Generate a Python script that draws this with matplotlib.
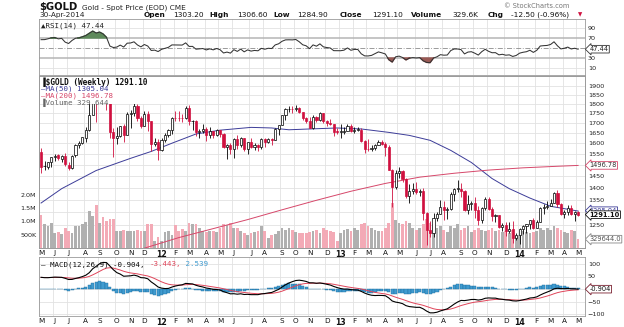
import numpy as np
import pandas as pd
import matplotlib
matplotlib.use("Agg")
import matplotlib.pyplot as plt
from matplotlib.ticker import FixedLocator, FixedFormatter, NullLocator
from matplotlib.patches import Rectangle

W_PX, H_PX = 624, 327

# ---------------- data (weekly) ----------------
dates = pd.date_range("2011-05-06", periods=157, freq="W-FRI")

opens = [1557, 1493, 1490, 1510, 1536, 1543, 1528, 1540, 1500, 1485, 1543, 1591, 1602, 1625, 1664, 1744, 1852, 1826, 1878, 1856,
         1812, 1656, 1624, 1636, 1683, 1642, 1745, 1753, 1787, 1724, 1684, 1746, 1711, 1598, 1606,
         1567, 1617, 1640, 1665, 1727, 1726, 1725, 1724, 1776, 1711, 1712, 1656, 1662, 1668, 1642, 1660, 1642, 1663, 1643, 1580,
         1593, 1572, 1622, 1590, 1626, 1572, 1604, 1580, 1590, 1584, 1620, 1606, 1620, 1616, 1671, 1691, 1740, 1771, 1773, 1772,
         1780, 1757, 1724, 1712, 1676, 1731, 1714, 1752, 1712, 1702, 1696, 1657,
         1656, 1656, 1662, 1687, 1658, 1667, 1667, 1609, 1573, 1572, 1577, 1592, 1608, 1596, 1581, 1476, 1404, 1462, 1470, 1436,
         1365, 1387, 1393, 1383, 1387, 1297, 1234, 1223, 1278, 1294, 1322, 1310, 1312, 1372, 1396, 1396, 1386, 1308, 1333, 1338,
         1310, 1272, 1316, 1352, 1315, 1287, 1288, 1243, 1250, 1231, 1235, 1203,
         1213, 1238, 1248, 1254, 1270, 1240, 1263, 1318, 1323, 1326, 1339, 1379, 1335, 1294, 1303, 1318, 1294, 1303.2]
highs = [1577, 1519, 1513, 1537, 1550, 1549, 1545, 1556, 1510, 1545, 1595, 1611, 1631, 1682, 1815, 1877, 1912, 1885, 1921, 1860,
         1815, 1676, 1681, 1684, 1695, 1759, 1767, 1803, 1800, 1735, 1761, 1763, 1712, 1624, 1620,
         1626, 1650, 1672, 1731, 1764, 1763, 1745, 1790, 1792, 1716, 1716, 1672, 1696, 1678, 1680, 1662, 1670, 1667, 1648, 1598,
         1600, 1627, 1641, 1628, 1627, 1606, 1626, 1602, 1596, 1625, 1625, 1625, 1626, 1675, 1692, 1740, 1778, 1789, 1788, 1796,
         1786, 1758, 1730, 1730, 1740, 1737, 1755, 1754, 1717, 1722, 1697, 1673,
         1694, 1679, 1695, 1694, 1679, 1682, 1675, 1614, 1619, 1590, 1597, 1616, 1617, 1605, 1590, 1480, 1476, 1488, 1477, 1440,
         1415, 1418, 1424, 1396, 1397, 1300, 1267, 1297, 1300, 1348, 1347, 1323, 1381, 1397, 1434, 1420, 1390, 1369, 1345, 1361,
         1326, 1323, 1361, 1360, 1322, 1293, 1290, 1260, 1262, 1261, 1268, 1220,
         1240, 1250, 1256, 1272, 1280, 1272, 1320, 1332, 1345, 1355, 1384, 1392, 1336, 1310, 1331, 1331, 1305, 1306.6]
lows = [1462, 1478, 1481, 1490, 1517, 1523, 1513, 1495, 1478, 1482, 1536, 1577, 1594, 1605, 1662, 1742, 1705, 1803, 1831, 1770,
        1627, 1535, 1595, 1630, 1604, 1641, 1677, 1736, 1711, 1676, 1683, 1660, 1562, 1585, 1523,
        1564, 1605, 1628, 1647, 1713, 1710, 1705, 1723, 1689, 1663, 1636, 1627, 1650, 1613, 1627, 1627, 1636, 1631, 1578, 1527,
        1549, 1532, 1571, 1584, 1562, 1547, 1575, 1567, 1563, 1574, 1584, 1600, 1590, 1615, 1641, 1689, 1717, 1758, 1751, 1765,
        1754, 1717, 1700, 1673, 1672, 1707, 1710, 1700, 1683, 1690, 1636, 1647,
        1626, 1645, 1661, 1655, 1651, 1660, 1604, 1555, 1565, 1562, 1570, 1590, 1590, 1539, 1476, 1321, 1395, 1441, 1426, 1359,
        1338, 1372, 1375, 1366, 1269, 1180, 1207, 1207, 1265, 1294, 1271, 1273, 1310, 1346, 1384, 1360, 1307, 1292, 1311, 1278,
        1251, 1260, 1310, 1310, 1266, 1261, 1240, 1230, 1211, 1222, 1186, 1195,
        1182, 1219, 1223, 1235, 1238, 1240, 1263, 1293, 1315, 1325, 1338, 1321, 1290, 1277, 1290, 1288, 1268, 1284.9]
closes = [1491, 1492, 1511, 1536, 1542, 1529, 1539, 1501, 1486, 1542, 1591, 1601, 1628, 1663, 1743, 1852, 1828, 1878, 1856, 1812,
          1657, 1624, 1635, 1683, 1642, 1746, 1753, 1788, 1725, 1683, 1746, 1712, 1598, 1606, 1566,
          1617, 1640, 1665, 1727, 1726, 1725, 1724, 1776, 1711, 1712, 1656, 1662, 1668, 1642, 1660, 1642, 1663, 1643, 1580, 1593,
          1572, 1622, 1590, 1626, 1572, 1604, 1580, 1590, 1584, 1620, 1606, 1620, 1616, 1671, 1691, 1740, 1771, 1773, 1772, 1780,
          1757, 1724, 1712, 1676, 1731, 1714, 1752, 1712, 1702, 1696, 1657, 1656,
          1656, 1662, 1687, 1658, 1667, 1667, 1609, 1573, 1572, 1577, 1592, 1608, 1596, 1581, 1476, 1404, 1462, 1470, 1436, 1365,
          1387, 1393, 1383, 1387, 1297, 1234, 1223, 1278, 1294, 1322, 1310, 1312, 1372, 1396, 1396, 1386, 1308, 1333, 1338, 1310,
          1272, 1316, 1352, 1315, 1287, 1288, 1243, 1250, 1231, 1235, 1203, 1213,
          1238, 1248, 1254, 1270, 1240, 1263, 1318, 1323, 1326, 1339, 1379, 1335, 1294, 1303, 1318, 1294, 1303, 1291.1]
volume_k = [1250, 900, 840, 940, 560, 590, 540, 730, 630, 560, 840, 810, 880, 980, 1400, 1210, 1600, 940, 1150, 1000,
            1100, 1100, 630, 630, 690, 650, 650, 630, 690, 650, 630, 880, 900, 280, 400, 250, 600, 650, 500, 850,
            630, 710, 630, 940, 900, 880, 750, 650, 600, 630, 630, 600, 750, 900, 850, 940, 730, 750, 630, 560,
            500, 560, 600, 630, 810, 630, 380, 500, 530, 630, 750, 690, 750, 690, 600, 560, 560, 560, 600, 650,
            690, 560, 750, 690, 630, 600, 250, 560, 690, 720, 630, 750, 690, 880, 940, 810, 750, 690, 630, 650,
            750, 940, 1700, 1060, 940, 880, 1000, 940, 750, 690, 750, 880, 1100, 940, 880, 750, 810, 690, 600, 810,
            750, 880, 690, 750, 810, 600, 690, 750, 690, 630, 690, 750, 630, 690, 600, 630, 560, 690, 430, 500,
            630, 600, 560, 600, 630, 750, 690, 750, 690, 810, 750, 690, 600, 560, 690, 630, 330]

ma50_weeks = [0, 6, 16, 26, 32, 38, 45, 52, 61, 67, 72, 78, 86, 93, 101, 107, 113, 119, 125, 131, 136, 142, 148, 156]
ma50_vals = [1337, 1396, 1474, 1529, 1561, 1600, 1645, 1664, 1678, 1675, 1666, 1670, 1675, 1670, 1653, 1638, 1614, 1566,
             1510, 1439, 1396, 1357, 1324, 1305.04]
ma200_weeks = [28, 40, 50, 60, 70, 80, 90, 100, 110, 120, 130, 140, 150, 156]
ma200_vals = [1160, 1205, 1238, 1272, 1310, 1348, 1385, 1418, 1445, 1462, 1476, 1486, 1493, 1496.78]

# indicator seeds (state before the first visible week)
prior_close = 1556.0
rsi_seed_gain, rsi_seed_loss = 22.0, 6.0
ema12_seed, ema26_seed, signal_seed = 1462.0, 1414.0, 46.0

price_ticks = [1250, 1300, 1350, 1400, 1450, 1500, 1550, 1600, 1650, 1700, 1750, 1800, 1850, 1900]
vol_ticks = [500000, 1000000, 1500000, 2000000]
vol_tick_labels = ["500K", "1.0M", "1.5M", "2.0M"]
macd_ticks = [-100, -50, 0, 50, 100]

# ---------------- indicators ----------------
n = len(closes)
x = np.arange(n)
c_arr = np.array(closes, float)
o_arr = np.array(opens, float)
h_arr = np.array(highs, float)
l_arr = np.array(lows, float)
v_arr = np.array(volume_k, float) * 1000

rsi = []
ag, al, prev = rsi_seed_gain, rsi_seed_loss, prior_close
for c in closes:
    ch = c - prev
    ag = (ag * 13 + max(ch, 0)) / 14
    al = (al * 13 + max(-ch, 0)) / 14
    rsi.append(100 - 100 / (1 + ag / al))
    prev = c
rsi = np.array(rsi)

macd, sig = [], []
e12, e26, s = ema12_seed, ema26_seed, signal_seed
for c in closes:
    e12 += (c - e12) * 2 / 13
    e26 += (c - e26) * 2 / 27
    m = e12 - e26
    s += (m - s) * 2 / 10
    macd.append(m)
    sig.append(s)
macd = np.array(macd)
sig = np.array(sig)
hist = macd - sig

prev_close = np.concatenate([[prior_close], c_arr[:-1]])
down = c_arr < prev_close

# ---------------- colours ----------------
RED = '#d0103f'
PINK = '#f3aab6'
GRAYV = '#b0b0b0'
GRID = '#e2e2e2'
SPINE = '#9a9a9a'
MA50C = '#3c3c98'
MA200C = '#d6476a'
HISTC = '#3f9bd0'
TXT = '#222222'

fig = plt.figure(figsize=(W_PX / 100, H_PX / 100), dpi=100)
fig.patch.set_facecolor('white')


def rect(l, t, r, b):
    return [l / W_PX, 1 - b / H_PX, (r - l) / W_PX, (b - t) / H_PX]


LEFT, RIGHT = 39, 585
XL = (-0.6, 158.0)

# month ticks
m_idx, m_lab = [], []
prevkey = None
for i, d in enumerate(dates):
    key = (d.year, d.month)
    if key != prevkey:
        m_idx.append(i)
        m_lab.append(str(d.year % 100) if d.month == 1 else 'JFMAMJJASOND'[d.month - 1])
        prevkey = key


def style(a):
    for sp in a.spines.values():
        sp.set_color(SPINE)
        sp.set_linewidth(0.6)
    a.tick_params(length=0, labelsize=4.6, colors=TXT, pad=2)
    a.set_xlim(*XL)


def vgrid(a):
    for mi in m_idx:
        a.axvline(mi - 0.5, color=GRID, lw=0.6, zorder=0)


def month_labels(a):
    a.set_xticks(m_idx)
    a.set_xticklabels(m_lab)
    for t, lab in zip(a.get_xticklabels(), m_lab):
        t.set_fontsize(5.2)
        t.set_color('#111111')
        if lab.isdigit():
            t.set_fontweight('bold')
            t.set_fontsize(5.6)
    a.tick_params(axis='x', pad=1.5)


def tag(a, yv, s, ec, tc, bold=False):
    a.text(1.008, yv, s, transform=a.get_yaxis_transform(), fontsize=4.8,
           color=tc, va='center', ha='left', fontweight='bold' if bold else 'normal', zorder=10,
           bbox=dict(boxstyle='larrow,pad=0.12', fc='white', ec=ec, lw=0.6), clip_on=False)


# ---------------- RSI panel ----------------
ax_r = fig.add_axes(rect(LEFT, 19, RIGHT, 75))
style(ax_r)
ax_r.set_ylim(-4, 108)
vgrid(ax_r)
for t in [10, 90]:
    ax_r.axhline(t, color=GRID, lw=0.6, zorder=0)
for t in [30, 70]:
    ax_r.axhline(t, color='#b5b5b5', lw=1.1, zorder=1)
ax_r.axhline(50, color='#8a8a8a', lw=0.6, ls=(0, (6, 2, 1, 2)), zorder=1)
ax_r.fill_between(x, rsi, 70, where=rsi > 70, interpolate=True, color='#5d8a5a', zorder=2)
ax_r.fill_between(x, rsi, 30, where=rsi < 30, interpolate=True, color='#9a5a55', zorder=2)
ax_r.plot(x, rsi, color='#333333', lw=0.75, zorder=3)
ax_r.yaxis.tick_right()
ax_r.set_yticks([10, 30, 70, 90])
ax_r.set_xticks([])
ax_r.text(0.004, 0.93, "\u25B2RSI(14) 47.44", transform=ax_r.transAxes, fontsize=5.4,
          family='DejaVu Sans Mono', color=TXT, va='top', ha='left', zorder=6)
tag(ax_r, rsi[-1], "47.44", '#333333', TXT)

# ---------------- main panel ----------------
ax_v = fig.add_axes(rect(LEFT, 76, RIGHT, 248))
style(ax_v)
ax_v.set_ylim(0, 6.43e6)
vgrid(ax_v)
ymin, ymax = 1168.0, 1958.0
for p in price_ticks:
    fr = (np.log(p) - np.log(ymin)) / (np.log(ymax) - np.log(ymin))
    ax_v.plot([0, 1], [fr, fr], transform=ax_v.transAxes, color=GRID, lw=0.6, zorder=0)
ax_v.bar(x, v_arr, width=0.8, color=np.where(down, PINK, GRAYV), linewidth=0, zorder=1)
ax_v.set_yticks(vol_ticks)
ax_v.set_yticklabels(vol_tick_labels)
ax_v.set_xticks([])
tag(ax_v, 329644, "329644.0", '#888888', '#555555')

ax = fig.add_axes(rect(LEFT, 76, RIGHT, 248))
ax.patch.set_visible(False)
style(ax)
ax.set_yscale('log')
ax.set_ylim(ymin, ymax)
ax.yaxis.tick_right()
ax.yaxis.set_major_locator(FixedLocator(price_ticks))
ax.yaxis.set_major_formatter(FixedFormatter(['' if p in (1300, 1500) else str(p) for p in price_ticks]))
ax.yaxis.set_minor_locator(NullLocator())
month_labels(ax)

ax.plot(ma50_weeks, ma50_vals, color=MA50C, lw=0.7, zorder=2)
ax.plot(ma200_weeks, ma200_vals, color=MA200C, lw=0.7, zorder=2)

ccol = np.where(down, RED, 'black')
ax.vlines(x, l_arr, h_arr, colors=ccol, lw=0.6, zorder=3)
bot = np.minimum(o_arr, c_arr)
top = np.maximum(o_arr, c_arr)
top = np.where(top - bot < 1.5, bot + 1.5, top)
fcol = np.where(c_arr < o_arr, ccol, 'white')
ax.bar(x, top - bot, bottom=bot, width=0.62, color=fcol, edgecolor=ccol, linewidth=0.5, zorder=4)

# legend block
ax.add_patch(Rectangle((0.002, (248 - 104) / 172), (180 - 40) / 546, 27.5 / 172, transform=ax.transAxes,
                       facecolor='white', edgecolor='none', zorder=5))


def ly(py):
    return (248 - py) / 172


ax.text(0.004, ly(82), "\u2590$GOLD (Weekly) 1291.10", transform=ax.transAxes, fontsize=5.6, fontweight='bold',
        family='DejaVu Sans Mono', color='#111111', va='center', zorder=6)
ax.text(0.004, ly(89), "\u2014MA(50) 1305.04", transform=ax.transAxes, fontsize=5.4,
        family='DejaVu Sans Mono', color=MA50C, va='center', zorder=6)
ax.text(0.004, ly(96), "\u2014MA(200) 1496.78", transform=ax.transAxes, fontsize=5.4,
        family='DejaVu Sans Mono', color=MA200C, va='center', zorder=6)
ax.text(0.004, ly(102.5), "\u2590Volume 329,644", transform=ax.transAxes, fontsize=5.4,
        family='DejaVu Sans Mono', color='#666666', va='center', zorder=6)

tag(ax, 1496.78, "1496.78", MA200C, '#333333')
tag(ax, 1306.5, "1305.04", MA50C, MA50C)
tag(ax, 1291.10, "1291.10", '#111111', '#111111', bold=True)

# ---------------- MACD panel ----------------
ax_m = fig.add_axes(rect(LEFT, 257, RIGHT, 316))
style(ax_m)
ax_m.set_ylim(-108, 128)
vgrid(ax_m)
for t in macd_ticks:
    ax_m.axhline(t, color=GRID, lw=0.6, zorder=0)
ax_m.bar(x, hist, width=0.9, color=HISTC, edgecolor='#1f6f9f', linewidth=0.3, zorder=2)
ax_m.plot(x, sig, color='#e0455a', lw=0.7, zorder=3)
ax_m.plot(x, macd, color='black', lw=0.8, zorder=4)
ax_m.yaxis.tick_right()
ax_m.set_yticks([-100, -50, 50, 100])
month_labels(ax_m)
fsm = 5.4
cw = 0.602 * fsm * 100 / 72 / (RIGHT - LEFT)
pos = 0.004
seg = [("\u2014 MACD(12,26,9) -0.904, ", '#111111'), ("-3.443,", '#e0455a'), (" 2.539", '#3f9bd0')]
for s_, col in seg:
    ax_m.text(pos, 0.93, s_, transform=ax_m.transAxes, fontsize=fsm, family='DejaVu Sans Mono',
              color=col, va='top', ha='left', zorder=6)
    pos += len(s_) * cw
tag(ax_m, macd[-1], "-0.904", '#7a2030', '#111111')


# ---------------- header ----------------
def hx(px):
    return px / W_PX


def hy(py):
    return 1 - py / H_PX


fig.text(hx(39), hy(7.5), "$GOLD", fontsize=7.2, fontweight='bold', color='#111111', va='center')
fig.text(hx(82), hy(7.5), "Gold - Spot Price (EOD) CME", fontsize=5.3, color='#222222', va='center')
fig.text(hx(504), hy(6), "\u00A9 StockCharts.com", fontsize=4.8, color='#777777', va='center')
fig.text(hx(39), hy(15), "30-Apr-2014", fontsize=5.3, color='#222222', va='center')
hdr = [(144, "Open", True), (173, "1303.20", False), (209, "High", True), (237, "1306.60", False),
       (273, "Low", True), (297, "1284.90", False), (340, "Close", True), (372, "1291.10", False),
       (411, "Volume", True), (452, "329.6K", False), (488, "Chg", True), (511, "-12.50 (-0.96%)", False)]
for px, s_, b in hdr:
    fig.text(hx(px), hy(15), s_, fontsize=5.3, fontweight='bold' if b else 'normal', color='#111111', va='center')
fig.text(hx(578), hy(15), "\u25BC", fontsize=4, color=RED, va='center')

fig.savefig("out.png", dpi=100, facecolor='white')
